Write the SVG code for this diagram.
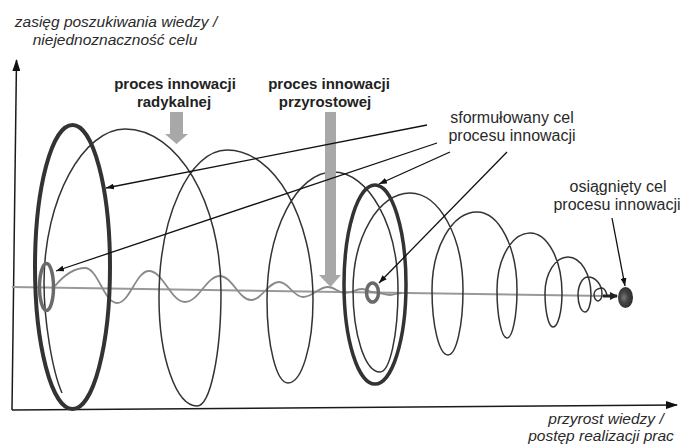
<svg xmlns="http://www.w3.org/2000/svg" width="682" height="446" viewBox="0 0 682 446">
<style>
.it{font-family:"Liberation Sans",Arial,sans-serif;font-style:italic;font-size:15.5px;fill:#2a2a2a;text-anchor:middle}
.bd{font-family:"Liberation Sans",Arial,sans-serif;font-weight:bold;font-size:15px;fill:#222;text-anchor:middle}
.rg{font-family:"Liberation Sans",Arial,sans-serif;font-size:16px;fill:#2a2a2a;text-anchor:middle}
.ax{stroke:#1a1a1a;stroke-width:1.5;fill:none}
.thin{stroke:#333;stroke-width:1.5;fill:none}
.thick{stroke:#333;fill:none}
.ring{stroke:#6a6a6a;stroke-width:3.5;fill:none}
.grey{stroke:#999;stroke-width:2;fill:none}
.wave{stroke:#8a8a8a;stroke-width:1.8;fill:none}
.garrow{fill:#a8a8a8}
.lead{stroke:#111;stroke-width:1.3;fill:none;marker-end:url(#ah)}
</style>
<defs>
<marker id="ah" viewBox="0 0 8 6" refX="8" refY="3" markerWidth="8" markerHeight="6" markerUnits="userSpaceOnUse" orient="auto"><path d="M0,0 L8,3 L0,6 z" fill="#111"/></marker>
<marker id="axh" viewBox="0 0 12 8" refX="11" refY="4" markerWidth="12" markerHeight="8" markerUnits="userSpaceOnUse" orient="auto"><path d="M0,0 L12,4 L0,8 z" fill="#111"/></marker>
<marker id="sh" viewBox="0 0 8 8" refX="7" refY="4" markerWidth="8" markerHeight="8" markerUnits="userSpaceOnUse" orient="auto"><path d="M0,0 L8,4 L0,8 z" fill="#222"/></marker>
<radialGradient id="tg" cx="0.4" cy="0.5" r="0.6"><stop offset="0" stop-color="#7a7a7a"/><stop offset="0.45" stop-color="#444"/><stop offset="1" stop-color="#2a2a2a"/></radialGradient>
</defs>

<g id="axes">
<path class="ax" d="M12,410 L16.5,60" style="marker-end:url(#axh)"/>
<path class="ax" d="M12,410 L677,405" style="marker-end:url(#axh)"/>
</g>

<g id="axis-y-label">
<text class="it" x="116" y="27">zasięg poszukiwania wiedzy /</text>
<text class="it" x="115" y="45">niejednoznaczność celu</text>
</g>
<g id="axis-x-label">
<text class="it" x="606" y="424">przyrost wiedzy /</text>
<text class="it" x="601" y="441">postęp realizacji prac</text>
</g>

<g id="center-line">
<path class="grey" d="M12,287 L606,296"/>
<path class="wave" d="M55,286 C65,274 75,268 85,268 C98,268 104,303 117,303 C130,303 136,271 149,271 C163,271 171,302 185,302 C199,302 206,276 220,276 C232,276 239,300 251,300 C262,300 268,282 279,282 C289,282 293,297 303,297 C313,297 318,287 328,287 C335,287 338,293 345,293 C352,293 355,289 362,289 C367,289 369,292 372,292 C380,292 384,295 390,295 C395,295 397,293 402,293"/>
</g>

<g id="spiral">
<path class="thin" d="M62,393 C52,370 44,320 44,283 C44,198 84,129 125,129 C177.8,129 221,202.4 221,292 C221,354.7 210.2,406 197,406 C176.1,406 159,357.4 159,298 C159,216.6 189.6,150 227,150 C274.3,150 313,217.5 313,300 C313,345.7 301.8,383 288,383 C276.5,383 267,345.7 267,300 C267,229.6 296.7,172 333,172 C368.8,172 398,225.1 398,290 C398,335.1 389.9,372 380,372 C365.2,372 353,335.1 353,290 C353,236.7 378.7,193 410,193 C439.2,193 463,236.7 463,290 C463,325.8 456.3,355 448,355 C439.2,355 432,325.8 432,290 C432,247.1 452.3,212 477,212 C499,212 517,247.1 517,290 C517,316.4 512.5,338 507,338 C501.5,338 497,316.4 497,290 C497,258.7 511.9,233 530,233 C547.6,233 562,260 562,293 C562,311.7 558,327 553,327 C548.6,327 545,311.7 545,293 C545,273.2 555.4,257 568,257 C580.7,257 591,274.1 591,295 C591,304.4 588.3,312 585,312 C581.2,312 578,304.4 578,295 C578,285.1 582.5,277 588,277 C595.7,277 602,284.7 602,294 C602,297.9 600.2,301 598,301 C595.8,301 594,297.9 594,294 C594,290.7 597.6,288 602,288 C605,288 606,292 607,295"/>
</g>

<g id="ellipse-1"><ellipse class="thick" cx="72.5" cy="267" rx="37.5" ry="142" stroke-width="4"/></g>
<g id="ellipse-2"><ellipse class="thick" cx="375" cy="284.5" rx="31" ry="99.5" stroke-width="3.5"/></g>
<g id="ring-1"><ellipse class="ring" cx="46.5" cy="287" rx="7" ry="23.5"/></g>
<g id="ring-2"><ellipse class="ring" cx="372.5" cy="292.5" rx="6" ry="9.5"/></g>
<g id="target"><ellipse cx="625.5" cy="297.5" rx="7.5" ry="10.5" fill="url(#tg)"/></g>

<g id="arrow-radical"><path class="garrow" d="M170,112 H183 V134 H188 L176.5,144 L165,134 H170 Z"/></g>
<g id="arrow-incremental"><path class="garrow" d="M325,112 H336 V275 H341 L330.5,287 L319,275 H325 Z"/></g>

<g id="label-radical">
<text class="bd" x="175" y="89">proces innowacji</text>
<text class="bd" x="174" y="107">radykalnej</text>
</g>
<g id="label-incremental">
<text class="bd" x="329" y="89">proces innowacji</text>
<text class="bd" x="325" y="107">przyrostowej</text>
</g>
<g id="label-goal">
<text class="rg" x="512" y="123">sformułowany cel</text>
<text class="rg" x="512" y="141">procesu innowacji</text>
</g>
<g id="label-achieved">
<text class="rg" x="618" y="192">osiągnięty cel</text>
<text class="rg" x="617" y="210">procesu innowacji</text>
</g>

<g id="connectors">
<path class="lead" d="M427,125 L106,188"/>
<path class="lead" d="M437,143 L56,271"/>
<path class="lead" d="M450,152 L379,184"/>
<path class="lead" d="M507,152 L379,283"/>
<path class="lead" d="M612,218 L625,286"/>
<path d="M603,296 L617,296" stroke="#222" stroke-width="3" fill="none" style="marker-end:url(#sh)"/>
</g>
</svg>
